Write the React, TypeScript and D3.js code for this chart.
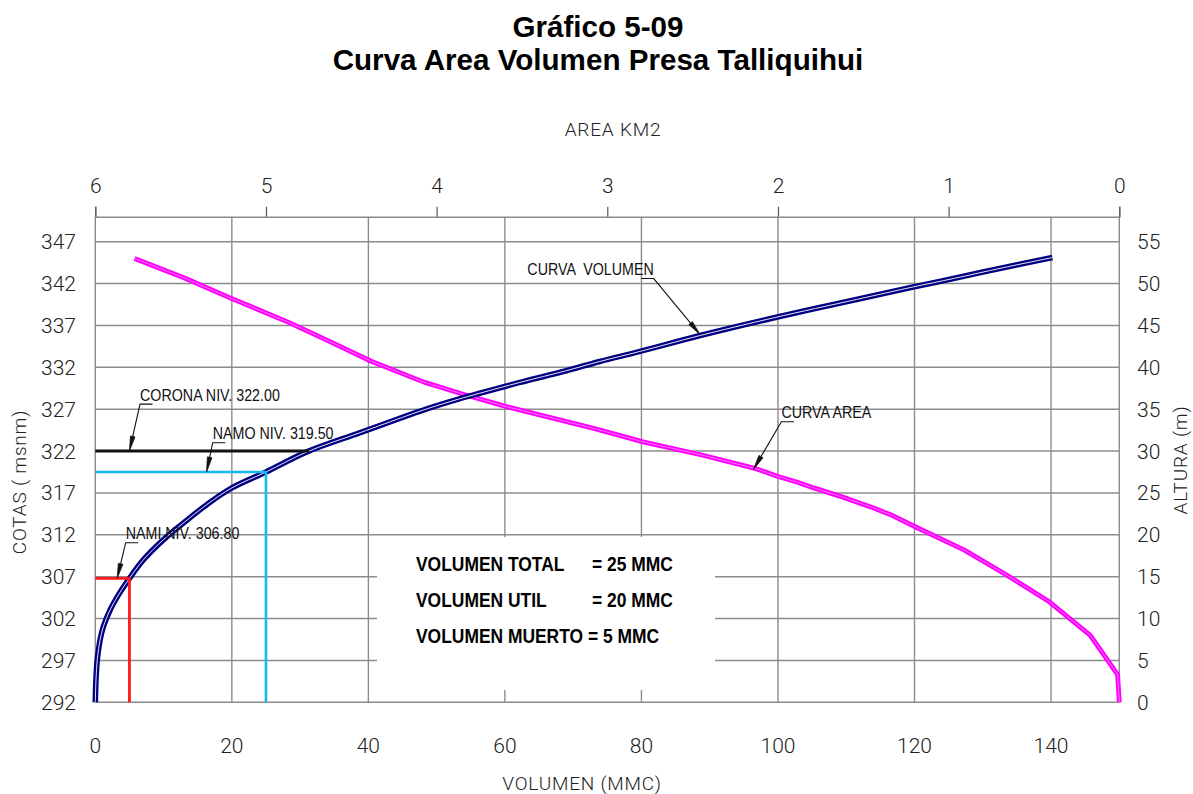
import React, { useEffect, useRef } from 'react';
import * as d3 from 'd3';

// curva volumen: volumen (MMC) vs cota (msnm)
const volumeMmc = [0, 0.1, 0.29, 0.69, 1.17, 2.15, 3.37, 5.0, 7.03, 9.96, 12.89, 16.32, 20.0, 25.0, 31.0, 38.8, 45.6, 48.8, 53.2, 56.3, 62.2, 69.0, 73.9, 79.8, 88.6, 99.3, 111.5, 119.8, 125.7, 133.0, 140.2];
const volumeCota = [292, 294.7, 297.1, 299.4, 301.0, 303.0, 304.8, 306.8, 309.0, 311.4, 313.4, 315.6, 317.6, 319.5, 321.9, 324.2, 326.2, 327.1, 328.2, 328.9, 330.2, 331.6, 332.7, 333.9, 335.8, 337.9, 340.1, 341.6, 342.6, 343.9, 345.1];

// curva area: area (km2) vs cota (msnm)
const areaKm2 = [5.77, 5.47, 5.2, 4.87, 4.65, 4.38, 4.07, 3.99, 3.83, 3.59, 3.08, 2.79, 2.44, 2.13, 1.99, 1.89, 1.79, 1.62, 1.44, 1.34, 1.19, 0.91, 0.66, 0.41, 0.17, 0.01, 0];
const areaCota = [345, 342.6, 340.2, 337.4, 335.3, 332.7, 330.2, 329.7, 328.7, 327.3, 324.7, 323.1, 321.5, 319.9, 318.9, 318.3, 317.6, 316.5, 315.2, 314.4, 312.9, 310.2, 307.2, 304.0, 300.0, 295.3, 292];

const volTicks = [0, 20, 40, 60, 80, 100, 120, 140];
const areaTicks = [6, 5, 4, 3, 2, 1, 0];
const cotaTicks = [292, 297, 302, 307, 312, 317, 322, 327, 332, 337, 342, 347];
const alturaTicks = [0, 5, 10, 15, 20, 25, 30, 35, 40, 45, 50, 55];

// niveles
const coronaCota = 322.0;
const namoCota = 319.5;
const namoVol = 25;
const namiCota = 306.8;
const namiVol = 5;

// etiquetas con flecha (coordenadas en volumen / cota)
const annoText = ['CORONA NIV. 322.00', 'NAMO NIV. 319.50', 'NAMI NIV. 306.80', 'CURVA  VOLUMEN', 'CURVA AREA'];
const annoTipVol = [5.0, 16.3, 3.2, 88.6, 96.4];
const annoTipCota = [322, 319.5, 306.8, 335.9, 319.8];
const annoKneeVol = [6.55, 17.2, 4.45, 81.8, 100.5];
const annoKneeCota = [327.6, 323.0, 311.06, 342.6, 325.5];
const annoSide = [1, 1, 1, -1, 1];

const boxLeft = ['VOLUMEN TOTAL', 'VOLUMEN UTIL', 'VOLUMEN MUERTO = 5 MMC'];
const boxRight = ['= 25 MMC', '= 20 MMC', ''];

const W = 1193;
const H = 794;

function App() {
  const ref = useRef<SVGSVGElement>(null);

  useEffect(() => {
    const svg = d3.select(ref.current);
    svg.selectAll('*').remove();

    const left = 95.3, right = 1119.3, top = 216.7;
    const x = d3.scaleLinear().domain([0, 150]).range([left, right]);
    const xa = d3.scaleLinear().domain([6, 0]).range([left, right]);
    const y = d3.scaleLinear().domain([292, 347]).range([702.3, 241.7]);
    const yAlt = d3.scaleLinear().domain([0, 55]).range([702.3, 241.7]);

    const cad = 'Roboto, "DejaVu Sans", sans-serif';
    const sans = '"Liberation Sans", Arial, sans-serif';
    const gridColor = '#8c8c8c';

    // titulo
    const title = svg.append('g')
      .attr('font-family', sans)
      .attr('font-weight', 'bold').attr('font-size', 29.6)
      .attr('text-anchor', 'middle').attr('fill', '#000');
    title.append('text').attr('x', 598).attr('y', 37).text('Gráfico 5-09');
    title.append('text').attr('x', 598).attr('y', 70).text('Curva Area Volumen Presa Talliquihui');

    // grilla
    const grid = svg.append('g').attr('stroke', gridColor).attr('stroke-width', 1.4);
    grid.selectAll('line.h').data(cotaTicks).enter().append('line')
      .attr('x1', left).attr('x2', right)
      .attr('y1', d => y(d)).attr('y2', d => y(d));
    grid.selectAll('line.v').data([...volTicks, 150]).enter().append('line')
      .attr('x1', d => x(d)).attr('x2', d => x(d))
      .attr('y1', top).attr('y2', y(292));

    // eje superior (area)
    const areaAxis = d3.axisTop(xa).tickValues(areaTicks).tickSize(10).tickFormat(d3.format('d'));
    const ga = svg.append('g').attr('transform', `translate(0,${top})`).call(areaAxis);
    ga.select('.domain').attr('stroke', gridColor).attr('stroke-width', 1.4);
    ga.selectAll('.tick line').attr('stroke', '#555').attr('stroke-width', 1.2);
    ga.selectAll('.tick text').attr('font-family', cad).attr('font-weight', 300)
      .attr('font-size', 21).attr('fill', '#222').attr('dy', '-11');

    // etiquetas ejes
    const lab = svg.append('g').attr('font-family', cad).attr('font-weight', 300).attr('fill', '#222')
      .style('white-space', 'pre');
    lab.selectAll('text.l').data(cotaTicks).enter().append('text')
      .attr('x', 76).attr('y', d => y(d)).attr('dy', '0.36em')
      .attr('text-anchor', 'end').attr('font-size', 21).text(d => d);
    lab.selectAll('text.r').data(alturaTicks).enter().append('text')
      .attr('x', 1137).attr('y', d => yAlt(d)).attr('dy', '0.36em')
      .attr('text-anchor', 'start').attr('font-size', 21).text(d => d);
    lab.selectAll('text.b').data(volTicks).enter().append('text')
      .attr('x', d => x(d)).attr('y', 753)
      .attr('text-anchor', 'middle').attr('font-size', 21).text(d => d);

    lab.append('text').attr('x', 613).attr('y', 136).attr('text-anchor', 'middle')
      .attr('font-size', 19).attr('letter-spacing', 0.8).text('AREA  KM2');
    lab.append('text').attr('x', 582).attr('y', 790).attr('text-anchor', 'middle')
      .attr('font-size', 19).attr('letter-spacing', 0.8).text('VOLUMEN  (MMC)');
    lab.append('text').attr('transform', 'translate(26,482) rotate(-90)').attr('text-anchor', 'middle')
      .attr('font-size', 19).attr('letter-spacing', 0.8).text('COTAS  (  msnm)');
    lab.append('text').attr('transform', 'translate(1187,460) rotate(-90)').attr('text-anchor', 'middle')
      .attr('font-size', 19).attr('letter-spacing', 0.8).text('ALTURA  (m)');

    // recuadro de volumenes
    svg.append('rect').attr('x', 377).attr('y', 537).attr('width', 338).attr('height', 153).attr('fill', '#fff');
    const box = svg.append('g').attr('font-family', sans).attr('font-weight', 'bold')
      .attr('font-size', 21).attr('fill', '#000');
    const boxY = [571, 607, 643];
    box.selectAll('text.bl').data(boxLeft).enter().append('text')
      .attr('transform', (d, i) => `translate(416,${boxY[i]}) scale(0.83,1)`).text(d => d);
    box.selectAll('text.br').data(boxRight).enter().append('text')
      .attr('transform', (d, i) => `translate(592,${boxY[i]}) scale(0.83,1)`).text(d => d);

    // curva area
    const areaLine = d3.line<number>().x((d, i) => xa(areaKm2[i])).y(d => y(d));
    svg.append('path').attr('d', areaLine(areaCota)).attr('fill', 'none')
      .attr('stroke', '#ff00ff').attr('stroke-width', 4.8).attr('stroke-linejoin', 'round');
    svg.append('path').attr('d', areaLine(areaCota)).attr('fill', 'none')
      .attr('stroke', '#ff70ff').attr('stroke-width', 1).attr('stroke-linejoin', 'round');

    // curva volumen
    const volLine = d3.line<number>().x((d, i) => x(volumeMmc[i])).y(d => y(d)).curve(d3.curveCatmullRom);
    svg.append('path').attr('d', volLine(volumeCota)).attr('fill', 'none')
      .attr('stroke', '#000080').attr('stroke-width', 5.6).attr('stroke-linejoin', 'round');
    svg.append('path').attr('d', volLine(volumeCota)).attr('fill', 'none')
      .attr('stroke', '#fff').attr('stroke-width', 0.9).attr('stroke-linejoin', 'round');

    // niveles
    const volAt = (c: number) => {
      for (let i = 1; i < volumeCota.length; i++) {
        if (volumeCota[i] >= c) {
          const t = (c - volumeCota[i - 1]) / (volumeCota[i] - volumeCota[i - 1]);
          return volumeMmc[i - 1] + t * (volumeMmc[i] - volumeMmc[i - 1]);
        }
      }
      return volumeMmc[volumeMmc.length - 1];
    };
    svg.append('line').attr('x1', x(0)).attr('x2', x(volAt(coronaCota)))
      .attr('y1', y(coronaCota)).attr('y2', y(coronaCota))
      .attr('stroke', '#111').attr('stroke-width', 3);
    svg.append('path')
      .attr('d', `M${x(0)},${y(namoCota)}H${x(namoVol)}V${y(292)}`)
      .attr('fill', 'none').attr('stroke', '#17b9f0').attr('stroke-width', 2.6);
    svg.append('path')
      .attr('d', `M${x(0)},${y(namiCota)}H${x(namiVol)}V${y(292)}`)
      .attr('fill', 'none').attr('stroke', '#ff1a1a').attr('stroke-width', 2.8);

    // flechas y textos
    const ann = svg.append('g');
    annoText.forEach((t, i) => {
      const tx = x(annoTipVol[i]), ty = y(annoTipCota[i]);
      const kx = x(annoKneeVol[i]), ky = y(annoKneeCota[i]);
      const side = annoSide[i];
      const len = Math.hypot(tx - kx, ty - ky);
      const ux = (tx - kx) / len, uy = (ty - ky) / len;
      const bx = tx - ux * 15, by = ty - uy * 15;
      const nx = -uy * 2.3, ny = ux * 2.3;
      ann.append('path')
        .attr('d', `M${kx + side * 12.5},${ky}H${kx}L${bx},${by}`)
        .attr('fill', 'none').attr('stroke', '#111').attr('stroke-width', 1.1);
      ann.append('path')
        .attr('d', `M${tx},${ty}L${bx + nx},${by + ny}L${bx - nx},${by - ny}Z`)
        .attr('fill', '#111').attr('stroke', '#111').attr('stroke-width', 0.8);
      ann.append('text')
        .attr('transform', `translate(${kx},${ky - 3.5}) scale(0.84,1)`)
        .attr('text-anchor', side > 0 ? 'start' : 'end')
        .attr('font-family', sans).attr('font-size', 17).attr('fill', '#111')
        .style('white-space', 'pre')
        .text(t);
    });
  }, []);

  return (
    <svg ref={ref} width={W} height={H}
      style={{ position: 'absolute', left: 0, top: 0, background: '#fff' }} />
  );
}

export default App;
